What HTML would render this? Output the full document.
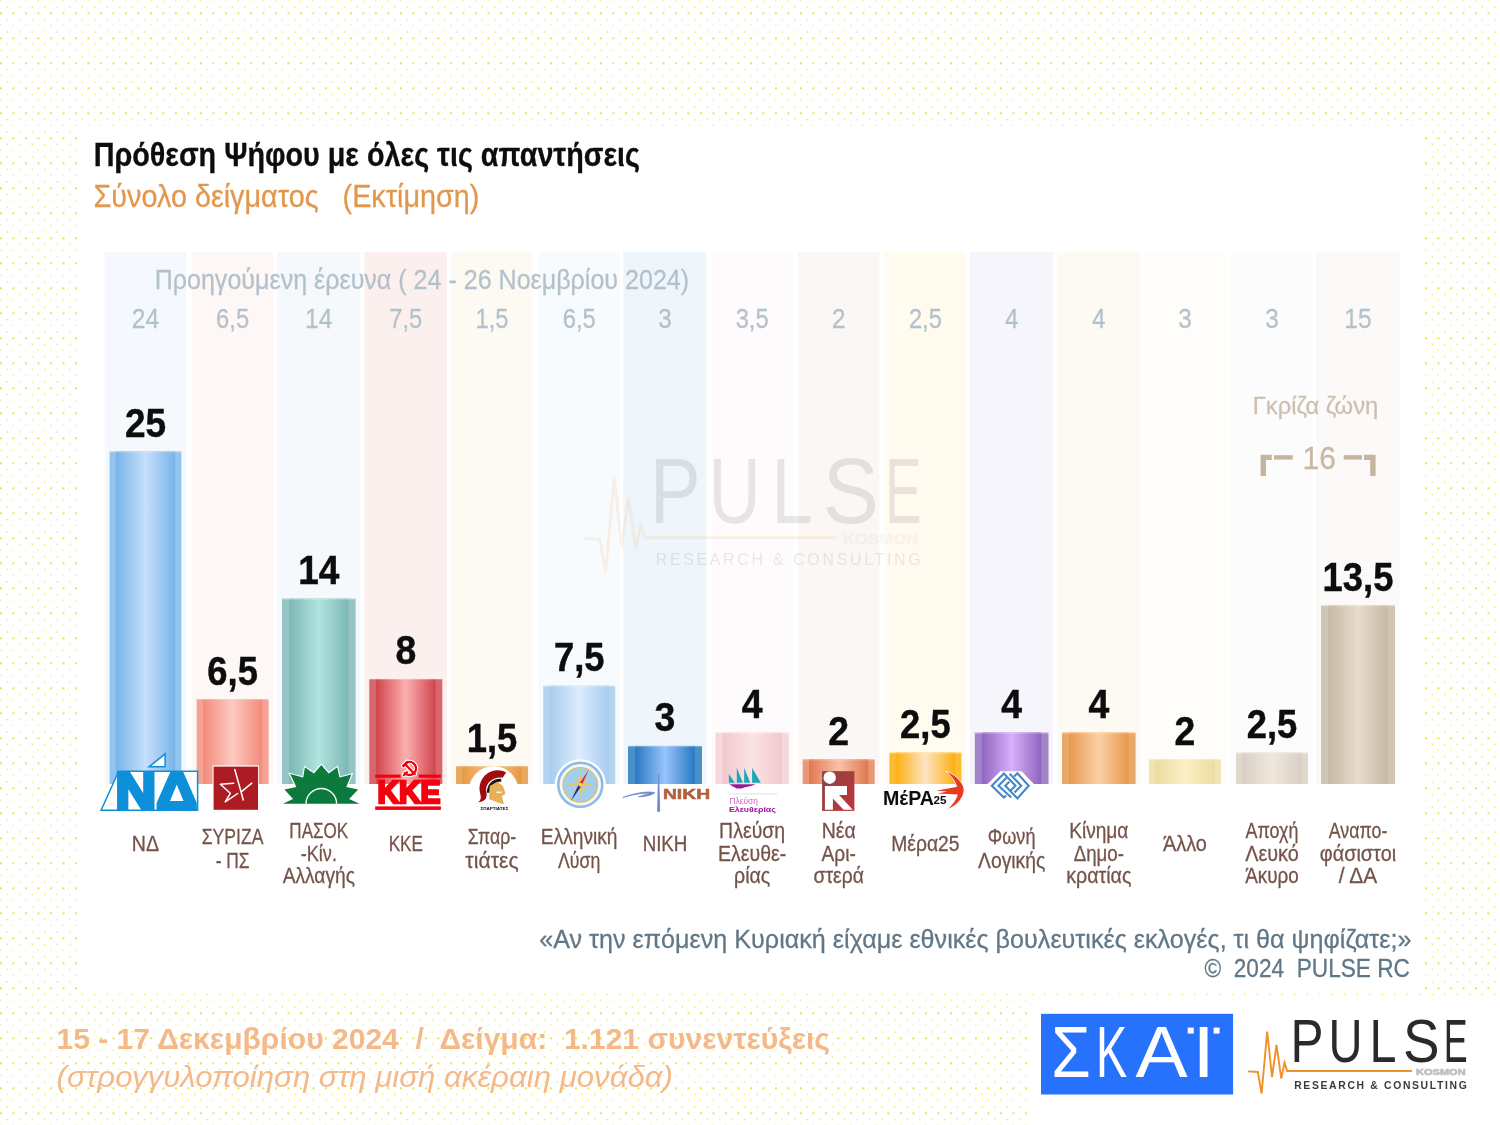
<!DOCTYPE html>
<html lang="el"><head><meta charset="utf-8"><title>Πρόθεση Ψήφου</title>
<style>html,body{margin:0;padding:0;background:#fff;}body{width:1500px;height:1125px;overflow:hidden}svg{display:block}text{white-space:pre}</style>
</head><body>
<svg width="1500" height="1125" viewBox="0 0 1500 1125">
<defs>
<pattern id="dots" x="0" y="0" width="25" height="25" patternUnits="userSpaceOnUse">
<g fill="#eee528">
<rect x="0" y="-0.3" width="1.6" height="1.0" opacity=".75"/><rect x="12.5" y="-0.3" width="1.6" height="1.0" opacity=".75"/>
<rect x="0" y="24.7" width="1.6" height="1.0" opacity=".75"/><rect x="12.5" y="24.7" width="1.6" height="1.0" opacity=".75"/>
<rect x="6.6" y="6.2" width="1.4" height="1.5" opacity=".7"/><rect x="19.1" y="6.2" width="1.4" height="1.5" opacity=".7"/>
<rect x="0" y="12.4" width="1.9" height="1.9"/><rect x="12.5" y="12.4" width="1.9" height="1.9"/>
<rect x="6.6" y="18.7" width="1.4" height="1.5" opacity=".7"/><rect x="19.1" y="18.7" width="1.4" height="1.5" opacity=".7"/>
</g></pattern>
<linearGradient id="g0" x1="0" x2="1" y1="0" y2="0"><stop offset="0" stop-color="#78b4e8"/><stop offset=".5" stop-color="#c6dffc"/><stop offset="1" stop-color="#78b4e8"/></linearGradient>
<linearGradient id="g1" x1="0" x2="1" y1="0" y2="0"><stop offset="0" stop-color="#f48a7a"/><stop offset=".5" stop-color="#fccac2"/><stop offset="1" stop-color="#f48a7a"/></linearGradient>
<linearGradient id="g2" x1="0" x2="1" y1="0" y2="0"><stop offset="0" stop-color="#7cb8b4"/><stop offset=".5" stop-color="#b0e4e0"/><stop offset="1" stop-color="#7cb8b4"/></linearGradient>
<linearGradient id="g3" x1="0" x2="1" y1="0" y2="0"><stop offset="0" stop-color="#d0444c"/><stop offset=".5" stop-color="#fcb0b0"/><stop offset="1" stop-color="#d0444c"/></linearGradient>
<linearGradient id="g4" x1="0" x2="1" y1="0" y2="0"><stop offset="0" stop-color="#e89840"/><stop offset=".5" stop-color="#f8c890"/><stop offset="1" stop-color="#e89840"/></linearGradient>
<linearGradient id="g5" x1="0" x2="1" y1="0" y2="0"><stop offset="0" stop-color="#a8ccf0"/><stop offset=".5" stop-color="#dcecfc"/><stop offset="1" stop-color="#a8ccf0"/></linearGradient>
<linearGradient id="g6" x1="0" x2="1" y1="0" y2="0"><stop offset="0" stop-color="#2878c0"/><stop offset=".5" stop-color="#98c4fc"/><stop offset="1" stop-color="#2878c0"/></linearGradient>
<linearGradient id="g7" x1="0" x2="1" y1="0" y2="0"><stop offset="0" stop-color="#f0c8cc"/><stop offset=".5" stop-color="#fce4e4"/><stop offset="1" stop-color="#f0c8cc"/></linearGradient>
<linearGradient id="g8" x1="0" x2="1" y1="0" y2="0"><stop offset="0" stop-color="#e07850"/><stop offset=".5" stop-color="#fcc0a8"/><stop offset="1" stop-color="#e07850"/></linearGradient>
<linearGradient id="g9" x1="0" x2="1" y1="0" y2="0"><stop offset="0" stop-color="#fbb010"/><stop offset=".5" stop-color="#fde4c4"/><stop offset="1" stop-color="#fbb010"/></linearGradient>
<linearGradient id="g10" x1="0" x2="1" y1="0" y2="0"><stop offset="0" stop-color="#9064c0"/><stop offset=".5" stop-color="#d8b0fc"/><stop offset="1" stop-color="#9064c0"/></linearGradient>
<linearGradient id="g11" x1="0" x2="1" y1="0" y2="0"><stop offset="0" stop-color="#e8984c"/><stop offset=".5" stop-color="#fcd0a8"/><stop offset="1" stop-color="#e8984c"/></linearGradient>
<linearGradient id="g12" x1="0" x2="1" y1="0" y2="0"><stop offset="0" stop-color="#ecdca0"/><stop offset=".5" stop-color="#fcf0c4"/><stop offset="1" stop-color="#ecdca0"/></linearGradient>
<linearGradient id="g13" x1="0" x2="1" y1="0" y2="0"><stop offset="0" stop-color="#d8d0c4"/><stop offset=".5" stop-color="#f0e8dc"/><stop offset="1" stop-color="#d8d0c4"/></linearGradient>
<linearGradient id="g14" x1="0" x2="1" y1="0" y2="0"><stop offset="0" stop-color="#c8b8a4"/><stop offset=".5" stop-color="#e8dccc"/><stop offset="1" stop-color="#c8b8a4"/></linearGradient>
<linearGradient id="gna" x1="0" y1="0" x2="1" y2="1"><stop offset="0" stop-color="#8a4244"/><stop offset="1" stop-color="#c03638"/></linearGradient>
<filter id="soft" x="0" y="0" width="1500" height="1125" filterUnits="userSpaceOnUse"><feGaussianBlur stdDeviation="0.45"/></filter>
</defs>
<rect width="1500" height="1125" fill="#fff"/>
<rect width="1500" height="1125" fill="url(#dots)"/>
<rect x="78.7" y="127.3" width="1344.6" height="865.7" fill="#fff"/>
<rect x="1028" y="997.3" width="472" height="128" fill="#fff"/>
<g filter="url(#soft)">
<rect x="104.80" y="252" width="81.20" height="532.0" fill="#f5f9fd"/>
<rect x="191.80" y="252" width="81.40" height="532.0" fill="#fdf7f5"/>
<rect x="277.20" y="252" width="83.00" height="532.0" fill="#f5f9fb"/>
<rect x="364.50" y="252" width="82.40" height="532.0" fill="#fcf0ef"/>
<rect x="451.20" y="252" width="81.40" height="532.0" fill="#fdf9f3"/>
<rect x="538.40" y="252" width="81.40" height="532.0" fill="#f8fbfe"/>
<rect x="623.20" y="252" width="83.40" height="532.0" fill="#eef5fb"/>
<rect x="710.70" y="252" width="82.70" height="532.0" fill="#fefbfc"/>
<rect x="797.90" y="252" width="81.40" height="532.0" fill="#fbf7f4"/>
<rect x="884.60" y="252" width="81.40" height="532.0" fill="#fffbef"/>
<rect x="970.00" y="252" width="83.10" height="532.0" fill="#f6f5fb"/>
<rect x="1057.20" y="252" width="83.00" height="532.0" fill="#fdfaf3"/>
<rect x="1144.20" y="252" width="81.40" height="532.0" fill="#fefdfa"/>
<rect x="1231.20" y="252" width="81.40" height="532.0" fill="#fdfcfc"/>
<rect x="1316.20" y="252" width="83.40" height="532.0" fill="#fbfaf8"/>
<g transform="translate(-1330.90,-1106.26) scale(1.5350,1.5350)" opacity="0.105">
<polyline fill="none" stroke="#f0922c" stroke-width="1.9" stroke-linejoin="miter" points="1248,1071.4 1257.8,1072 1261.6,1093.5 1267.2,1031.5 1272,1077 1276.5,1045 1281.3,1078.6 1284.5,1062.6 1287.2,1071 1412,1071"/>
<text y="1061.6" font-size="60.3" fill="#2b2b2b" font-family='"Liberation Sans", sans-serif'><tspan x="1290.44" textLength="33.00" lengthAdjust="spacingAndGlyphs">P</tspan><tspan x="1328.60" textLength="34.00" lengthAdjust="spacingAndGlyphs">U</tspan><tspan x="1369.56" textLength="27.00" lengthAdjust="spacingAndGlyphs">L</tspan><tspan x="1403.04" textLength="36.51" lengthAdjust="spacingAndGlyphs">S</tspan><tspan x="1443.63" textLength="23.87" lengthAdjust="spacingAndGlyphs">E</tspan></text>
<text x="1416" y="1075.4" font-size="9.2" font-weight="bold" fill="#bdbdbd" stroke="#bdbdbd" stroke-width=".6" font-family='"Liberation Sans", sans-serif' textLength="49.6" lengthAdjust="spacingAndGlyphs">KOSMON</text>
<text x="1294.2" y="1089" font-size="10.4" font-weight="normal" fill="#3a3a3a" font-family='"Liberation Sans", sans-serif' textLength="172.6" lengthAdjust="spacing">RESEARCH &amp; CONSULTING</text>
</g>
<rect x="109.60" y="451.35" width="71.8" height="332.65" fill="#92c4ee"/>
<rect x="115.80" y="451.35" width="59.40" height="332.65" fill="url(#g0)"/>
<rect x="109.60" y="451.35" width="71.8" height="1.2" fill="#fff" opacity=".25"/>
<rect x="196.60" y="699.07" width="72.0" height="84.93" fill="#f5a294"/>
<rect x="202.90" y="699.07" width="59.40" height="84.93" fill="url(#g1)"/>
<rect x="196.60" y="699.07" width="72.0" height="1.2" fill="#fff" opacity=".25"/>
<rect x="282.00" y="598.64" width="73.6" height="185.36" fill="#96c4c4"/>
<rect x="289.10" y="598.64" width="59.40" height="185.36" fill="url(#g2)"/>
<rect x="282.00" y="598.64" width="73.6" height="1.2" fill="#fff" opacity=".25"/>
<rect x="369.30" y="678.98" width="73.0" height="105.02" fill="#d8666c"/>
<rect x="376.10" y="678.98" width="59.40" height="105.02" fill="url(#g3)"/>
<rect x="369.30" y="678.98" width="73.0" height="1.2" fill="#fff" opacity=".25"/>
<rect x="456.00" y="766.01" width="72.0" height="17.99" fill="#e8a860"/>
<rect x="462.30" y="766.01" width="59.40" height="17.99" fill="url(#g4)"/>
<rect x="456.00" y="766.01" width="72.0" height="1.2" fill="#fff" opacity=".25"/>
<rect x="543.20" y="685.67" width="72.0" height="98.33" fill="#b4d4f0"/>
<rect x="549.50" y="685.67" width="59.40" height="98.33" fill="url(#g5)"/>
<rect x="543.20" y="685.67" width="72.0" height="1.2" fill="#fff" opacity=".25"/>
<rect x="628.00" y="745.93" width="74.0" height="38.07" fill="#4890c8"/>
<rect x="635.30" y="745.93" width="59.40" height="38.07" fill="url(#g6)"/>
<rect x="628.00" y="745.93" width="74.0" height="1.2" fill="#fff" opacity=".25"/>
<rect x="715.50" y="732.54" width="73.3" height="51.46" fill="#f4d8dc"/>
<rect x="722.45" y="732.54" width="59.40" height="51.46" fill="url(#g7)"/>
<rect x="715.50" y="732.54" width="73.3" height="1.2" fill="#fff" opacity=".25"/>
<rect x="802.70" y="759.32" width="72.0" height="24.68" fill="#e89878"/>
<rect x="809.00" y="759.32" width="59.40" height="24.68" fill="url(#g8)"/>
<rect x="802.70" y="759.32" width="72.0" height="1.2" fill="#fff" opacity=".25"/>
<rect x="889.40" y="752.62" width="72.0" height="31.38" fill="#fcbc30"/>
<rect x="895.70" y="752.62" width="59.40" height="31.38" fill="url(#g9)"/>
<rect x="889.40" y="752.62" width="72.0" height="1.2" fill="#fff" opacity=".25"/>
<rect x="974.80" y="732.54" width="73.7" height="51.46" fill="#a484c8"/>
<rect x="981.95" y="732.54" width="59.40" height="51.46" fill="url(#g10)"/>
<rect x="974.80" y="732.54" width="73.7" height="1.2" fill="#fff" opacity=".25"/>
<rect x="1062.00" y="732.54" width="73.6" height="51.46" fill="#e8a868"/>
<rect x="1069.10" y="732.54" width="59.40" height="51.46" fill="url(#g11)"/>
<rect x="1062.00" y="732.54" width="73.6" height="1.2" fill="#fff" opacity=".25"/>
<rect x="1149.00" y="759.32" width="72.0" height="24.68" fill="#f0e4b4"/>
<rect x="1155.30" y="759.32" width="59.40" height="24.68" fill="url(#g12)"/>
<rect x="1149.00" y="759.32" width="72.0" height="1.2" fill="#fff" opacity=".25"/>
<rect x="1236.00" y="752.62" width="72.0" height="31.38" fill="#e0d8cc"/>
<rect x="1242.30" y="752.62" width="59.40" height="31.38" fill="url(#g13)"/>
<rect x="1236.00" y="752.62" width="72.0" height="1.2" fill="#fff" opacity=".25"/>
<rect x="1321.00" y="605.34" width="74.0" height="178.66" fill="#d0c4b4"/>
<rect x="1328.30" y="605.34" width="59.40" height="178.66" fill="url(#g14)"/>
<rect x="1321.00" y="605.34" width="74.0" height="1.2" fill="#fff" opacity=".25"/>
<g id="txt">
<text x="93.70" y="166.00" font-size="33.30" fill="#0a0a0a" font-weight="bold" font-style="normal" font-family='"Liberation Sans", sans-serif' textLength="546.30" lengthAdjust="spacingAndGlyphs"  stroke="#0a0a0a" stroke-width="0.28">Πρόθεση Ψήφου με όλες τις απαντήσεις</text>
<text x="93.56" y="206.70" font-size="31.20" fill="#e2974d" font-weight="normal" font-style="normal" font-family='"Liberation Sans", sans-serif' textLength="385.87" lengthAdjust="spacingAndGlyphs"  stroke="#e2974d" stroke-width="0.28">Σύνολο δείγματος   (Εκτίμηση)</text>
<text x="154.67" y="289.20" font-size="27.60" fill="#b3c1cb" font-weight="normal" font-style="normal" font-family='"Liberation Sans", sans-serif' textLength="534.46" lengthAdjust="spacingAndGlyphs"  stroke="#b3c1cb" stroke-width="0.28">Προηγούμενη έρευνα ( 24 - 26 Νοεμβρίου 2024)</text>
<text x="131.81" y="328.30" font-size="28.50" fill="#b3c1cb" font-weight="normal" font-style="normal" font-family='"Liberation Sans", sans-serif' textLength="27.37" lengthAdjust="spacingAndGlyphs"  stroke="#b3c1cb" stroke-width="0.28">24</text>
<text x="216.11" y="328.30" font-size="28.50" fill="#b3c1cb" font-weight="normal" font-style="normal" font-family='"Liberation Sans", sans-serif' textLength="32.97" lengthAdjust="spacingAndGlyphs"  stroke="#b3c1cb" stroke-width="0.28">6,5</text>
<text x="305.11" y="328.30" font-size="28.50" fill="#b3c1cb" font-weight="normal" font-style="normal" font-family='"Liberation Sans", sans-serif' textLength="27.37" lengthAdjust="spacingAndGlyphs"  stroke="#b3c1cb" stroke-width="0.28">14</text>
<text x="389.31" y="328.30" font-size="28.50" fill="#b3c1cb" font-weight="normal" font-style="normal" font-family='"Liberation Sans", sans-serif' textLength="32.97" lengthAdjust="spacingAndGlyphs"  stroke="#b3c1cb" stroke-width="0.28">7,5</text>
<text x="475.51" y="328.30" font-size="28.50" fill="#b3c1cb" font-weight="normal" font-style="normal" font-family='"Liberation Sans", sans-serif' textLength="32.97" lengthAdjust="spacingAndGlyphs"  stroke="#b3c1cb" stroke-width="0.28">1,5</text>
<text x="562.71" y="328.30" font-size="28.50" fill="#b3c1cb" font-weight="normal" font-style="normal" font-family='"Liberation Sans", sans-serif' textLength="32.97" lengthAdjust="spacingAndGlyphs"  stroke="#b3c1cb" stroke-width="0.28">6,5</text>
<text x="658.23" y="328.30" font-size="28.50" fill="#b3c1cb" font-weight="normal" font-style="normal" font-family='"Liberation Sans", sans-serif' textLength="13.54" lengthAdjust="spacingAndGlyphs"  stroke="#b3c1cb" stroke-width="0.28">3</text>
<text x="735.66" y="328.30" font-size="28.50" fill="#b3c1cb" font-weight="normal" font-style="normal" font-family='"Liberation Sans", sans-serif' textLength="32.97" lengthAdjust="spacingAndGlyphs"  stroke="#b3c1cb" stroke-width="0.28">3,5</text>
<text x="831.93" y="328.30" font-size="28.50" fill="#b3c1cb" font-weight="normal" font-style="normal" font-family='"Liberation Sans", sans-serif' textLength="13.54" lengthAdjust="spacingAndGlyphs"  stroke="#b3c1cb" stroke-width="0.28">2</text>
<text x="908.91" y="328.30" font-size="28.50" fill="#b3c1cb" font-weight="normal" font-style="normal" font-family='"Liberation Sans", sans-serif' textLength="32.97" lengthAdjust="spacingAndGlyphs"  stroke="#b3c1cb" stroke-width="0.28">2,5</text>
<text x="1004.88" y="328.30" font-size="28.50" fill="#b3c1cb" font-weight="normal" font-style="normal" font-family='"Liberation Sans", sans-serif' textLength="13.54" lengthAdjust="spacingAndGlyphs"  stroke="#b3c1cb" stroke-width="0.28">4</text>
<text x="1092.03" y="328.30" font-size="28.50" fill="#b3c1cb" font-weight="normal" font-style="normal" font-family='"Liberation Sans", sans-serif' textLength="13.54" lengthAdjust="spacingAndGlyphs"  stroke="#b3c1cb" stroke-width="0.28">4</text>
<text x="1178.23" y="328.30" font-size="28.50" fill="#b3c1cb" font-weight="normal" font-style="normal" font-family='"Liberation Sans", sans-serif' textLength="13.54" lengthAdjust="spacingAndGlyphs"  stroke="#b3c1cb" stroke-width="0.28">3</text>
<text x="1265.23" y="328.30" font-size="28.50" fill="#b3c1cb" font-weight="normal" font-style="normal" font-family='"Liberation Sans", sans-serif' textLength="13.54" lengthAdjust="spacingAndGlyphs"  stroke="#b3c1cb" stroke-width="0.28">3</text>
<text x="1344.31" y="328.30" font-size="28.50" fill="#b3c1cb" font-weight="normal" font-style="normal" font-family='"Liberation Sans", sans-serif' textLength="27.37" lengthAdjust="spacingAndGlyphs"  stroke="#b3c1cb" stroke-width="0.28">15</text>
<text x="124.92" y="436.85" font-size="40.60" fill="#0a0a0a" font-weight="bold" font-style="normal" font-family='"Liberation Sans", sans-serif' textLength="41.16" lengthAdjust="spacingAndGlyphs"  stroke="#0a0a0a" stroke-width="0.45">25</text>
<text x="207.32" y="684.57" font-size="40.60" fill="#0a0a0a" font-weight="bold" font-style="normal" font-family='"Liberation Sans", sans-serif' textLength="50.56" lengthAdjust="spacingAndGlyphs"  stroke="#0a0a0a" stroke-width="0.45">6,5</text>
<text x="298.22" y="584.14" font-size="40.60" fill="#0a0a0a" font-weight="bold" font-style="normal" font-family='"Liberation Sans", sans-serif' textLength="41.16" lengthAdjust="spacingAndGlyphs"  stroke="#0a0a0a" stroke-width="0.45">14</text>
<text x="395.40" y="664.48" font-size="40.60" fill="#0a0a0a" font-weight="bold" font-style="normal" font-family='"Liberation Sans", sans-serif' textLength="20.80" lengthAdjust="spacingAndGlyphs"  stroke="#0a0a0a" stroke-width="0.45">8</text>
<text x="466.72" y="751.51" font-size="40.60" fill="#0a0a0a" font-weight="bold" font-style="normal" font-family='"Liberation Sans", sans-serif' textLength="50.56" lengthAdjust="spacingAndGlyphs"  stroke="#0a0a0a" stroke-width="0.45">1,5</text>
<text x="553.92" y="671.17" font-size="40.60" fill="#0a0a0a" font-weight="bold" font-style="normal" font-family='"Liberation Sans", sans-serif' textLength="50.56" lengthAdjust="spacingAndGlyphs"  stroke="#0a0a0a" stroke-width="0.45">7,5</text>
<text x="654.60" y="731.43" font-size="40.60" fill="#0a0a0a" font-weight="bold" font-style="normal" font-family='"Liberation Sans", sans-serif' textLength="20.80" lengthAdjust="spacingAndGlyphs"  stroke="#0a0a0a" stroke-width="0.45">3</text>
<text x="741.75" y="718.04" font-size="40.60" fill="#0a0a0a" font-weight="bold" font-style="normal" font-family='"Liberation Sans", sans-serif' textLength="20.80" lengthAdjust="spacingAndGlyphs"  stroke="#0a0a0a" stroke-width="0.45">4</text>
<text x="828.30" y="744.82" font-size="40.60" fill="#0a0a0a" font-weight="bold" font-style="normal" font-family='"Liberation Sans", sans-serif' textLength="20.80" lengthAdjust="spacingAndGlyphs"  stroke="#0a0a0a" stroke-width="0.45">2</text>
<text x="900.12" y="738.12" font-size="40.60" fill="#0a0a0a" font-weight="bold" font-style="normal" font-family='"Liberation Sans", sans-serif' textLength="50.56" lengthAdjust="spacingAndGlyphs"  stroke="#0a0a0a" stroke-width="0.45">2,5</text>
<text x="1001.25" y="718.04" font-size="40.60" fill="#0a0a0a" font-weight="bold" font-style="normal" font-family='"Liberation Sans", sans-serif' textLength="20.80" lengthAdjust="spacingAndGlyphs"  stroke="#0a0a0a" stroke-width="0.45">4</text>
<text x="1088.40" y="718.04" font-size="40.60" fill="#0a0a0a" font-weight="bold" font-style="normal" font-family='"Liberation Sans", sans-serif' textLength="20.80" lengthAdjust="spacingAndGlyphs"  stroke="#0a0a0a" stroke-width="0.45">4</text>
<text x="1174.60" y="744.82" font-size="40.60" fill="#0a0a0a" font-weight="bold" font-style="normal" font-family='"Liberation Sans", sans-serif' textLength="20.80" lengthAdjust="spacingAndGlyphs"  stroke="#0a0a0a" stroke-width="0.45">2</text>
<text x="1246.72" y="738.12" font-size="40.60" fill="#0a0a0a" font-weight="bold" font-style="normal" font-family='"Liberation Sans", sans-serif' textLength="50.56" lengthAdjust="spacingAndGlyphs"  stroke="#0a0a0a" stroke-width="0.45">2,5</text>
<text x="1322.54" y="590.84" font-size="40.60" fill="#0a0a0a" font-weight="bold" font-style="normal" font-family='"Liberation Sans", sans-serif' textLength="70.92" lengthAdjust="spacingAndGlyphs"  stroke="#0a0a0a" stroke-width="0.45">13,5</text>
<text x="131.86" y="851.00" font-size="21.20" fill="#74534a" font-weight="normal" font-style="normal" font-family='"Liberation Sans", sans-serif' textLength="27.27" lengthAdjust="spacingAndGlyphs"  stroke="#74534a" stroke-width="0.28">ΝΔ</text>
<text x="201.76" y="844.40" font-size="21.20" fill="#74534a" font-weight="normal" font-style="normal" font-family='"Liberation Sans", sans-serif' textLength="61.67" lengthAdjust="spacingAndGlyphs"  stroke="#74534a" stroke-width="0.28">ΣΥΡΙΖΑ</text>
<text x="215.66" y="867.60" font-size="21.20" fill="#74534a" font-weight="normal" font-style="normal" font-family='"Liberation Sans", sans-serif' textLength="33.87" lengthAdjust="spacingAndGlyphs"  stroke="#74534a" stroke-width="0.28">- ΠΣ</text>
<text x="289.36" y="837.80" font-size="21.20" fill="#74534a" font-weight="normal" font-style="normal" font-family='"Liberation Sans", sans-serif' textLength="58.87" lengthAdjust="spacingAndGlyphs"  stroke="#74534a" stroke-width="0.28">ΠΑΣΟΚ</text>
<text x="300.66" y="860.60" font-size="21.20" fill="#74534a" font-weight="normal" font-style="normal" font-family='"Liberation Sans", sans-serif' textLength="36.27" lengthAdjust="spacingAndGlyphs"  stroke="#74534a" stroke-width="0.28">-Κίν.</text>
<text x="282.66" y="883.20" font-size="21.20" fill="#74534a" font-weight="normal" font-style="normal" font-family='"Liberation Sans", sans-serif' textLength="72.27" lengthAdjust="spacingAndGlyphs"  stroke="#74534a" stroke-width="0.28">Αλλαγής</text>
<text x="388.66" y="851.00" font-size="21.20" fill="#74534a" font-weight="normal" font-style="normal" font-family='"Liberation Sans", sans-serif' textLength="34.27" lengthAdjust="spacingAndGlyphs"  stroke="#74534a" stroke-width="0.28">ΚΚΕ</text>
<text x="467.86" y="844.40" font-size="21.20" fill="#74534a" font-weight="normal" font-style="normal" font-family='"Liberation Sans", sans-serif' textLength="48.27" lengthAdjust="spacingAndGlyphs"  stroke="#74534a" stroke-width="0.28">Σπαρ-</text>
<text x="465.36" y="867.60" font-size="21.20" fill="#74534a" font-weight="normal" font-style="normal" font-family='"Liberation Sans", sans-serif' textLength="53.27" lengthAdjust="spacingAndGlyphs"  stroke="#74534a" stroke-width="0.28">τιάτες</text>
<text x="540.86" y="844.40" font-size="21.20" fill="#74534a" font-weight="normal" font-style="normal" font-family='"Liberation Sans", sans-serif' textLength="76.67" lengthAdjust="spacingAndGlyphs"  stroke="#74534a" stroke-width="0.28">Ελληνική</text>
<text x="558.06" y="867.60" font-size="21.20" fill="#74534a" font-weight="normal" font-style="normal" font-family='"Liberation Sans", sans-serif' textLength="42.27" lengthAdjust="spacingAndGlyphs"  stroke="#74534a" stroke-width="0.28">Λύση</text>
<text x="642.66" y="851.00" font-size="21.20" fill="#74534a" font-weight="normal" font-style="normal" font-family='"Liberation Sans", sans-serif' textLength="44.67" lengthAdjust="spacingAndGlyphs"  stroke="#74534a" stroke-width="0.28">ΝΙΚΗ</text>
<text x="719.11" y="837.80" font-size="21.20" fill="#74534a" font-weight="normal" font-style="normal" font-family='"Liberation Sans", sans-serif' textLength="66.07" lengthAdjust="spacingAndGlyphs"  stroke="#74534a" stroke-width="0.28">Πλεύση</text>
<text x="718.01" y="860.60" font-size="21.20" fill="#74534a" font-weight="normal" font-style="normal" font-family='"Liberation Sans", sans-serif' textLength="68.27" lengthAdjust="spacingAndGlyphs"  stroke="#74534a" stroke-width="0.28">Ελευθε-</text>
<text x="734.01" y="883.20" font-size="21.20" fill="#74534a" font-weight="normal" font-style="normal" font-family='"Liberation Sans", sans-serif' textLength="36.27" lengthAdjust="spacingAndGlyphs"  stroke="#74534a" stroke-width="0.28">ρίας</text>
<text x="821.66" y="837.80" font-size="21.20" fill="#74534a" font-weight="normal" font-style="normal" font-family='"Liberation Sans", sans-serif' textLength="34.07" lengthAdjust="spacingAndGlyphs"  stroke="#74534a" stroke-width="0.28">Νέα</text>
<text x="821.56" y="860.60" font-size="21.20" fill="#74534a" font-weight="normal" font-style="normal" font-family='"Liberation Sans", sans-serif' textLength="34.27" lengthAdjust="spacingAndGlyphs"  stroke="#74534a" stroke-width="0.28">Αρι-</text>
<text x="813.56" y="883.20" font-size="21.20" fill="#74534a" font-weight="normal" font-style="normal" font-family='"Liberation Sans", sans-serif' textLength="50.27" lengthAdjust="spacingAndGlyphs"  stroke="#74534a" stroke-width="0.28">στερά</text>
<text x="891.26" y="851.00" font-size="21.20" fill="#74534a" font-weight="normal" font-style="normal" font-family='"Liberation Sans", sans-serif' textLength="68.27" lengthAdjust="spacingAndGlyphs"  stroke="#74534a" stroke-width="0.28">Μέρα25</text>
<text x="987.81" y="844.40" font-size="21.20" fill="#74534a" font-weight="normal" font-style="normal" font-family='"Liberation Sans", sans-serif' textLength="47.67" lengthAdjust="spacingAndGlyphs"  stroke="#74534a" stroke-width="0.28">Φωνή</text>
<text x="978.01" y="867.60" font-size="21.20" fill="#74534a" font-weight="normal" font-style="normal" font-family='"Liberation Sans", sans-serif' textLength="67.27" lengthAdjust="spacingAndGlyphs"  stroke="#74534a" stroke-width="0.28">Λογικής</text>
<text x="1069.16" y="837.80" font-size="21.20" fill="#74534a" font-weight="normal" font-style="normal" font-family='"Liberation Sans", sans-serif' textLength="59.27" lengthAdjust="spacingAndGlyphs"  stroke="#74534a" stroke-width="0.28">Κίνημα</text>
<text x="1073.66" y="860.60" font-size="21.20" fill="#74534a" font-weight="normal" font-style="normal" font-family='"Liberation Sans", sans-serif' textLength="50.27" lengthAdjust="spacingAndGlyphs"  stroke="#74534a" stroke-width="0.28">Δημο-</text>
<text x="1066.16" y="883.20" font-size="21.20" fill="#74534a" font-weight="normal" font-style="normal" font-family='"Liberation Sans", sans-serif' textLength="65.27" lengthAdjust="spacingAndGlyphs"  stroke="#74534a" stroke-width="0.28">κρατίας</text>
<text x="1163.06" y="851.00" font-size="21.20" fill="#74534a" font-weight="normal" font-style="normal" font-family='"Liberation Sans", sans-serif' textLength="43.87" lengthAdjust="spacingAndGlyphs"  stroke="#74534a" stroke-width="0.28">Άλλο</text>
<text x="1245.56" y="837.80" font-size="21.20" fill="#74534a" font-weight="normal" font-style="normal" font-family='"Liberation Sans", sans-serif' textLength="52.87" lengthAdjust="spacingAndGlyphs"  stroke="#74534a" stroke-width="0.28">Αποχή</text>
<text x="1245.16" y="860.60" font-size="21.20" fill="#74534a" font-weight="normal" font-style="normal" font-family='"Liberation Sans", sans-serif' textLength="53.67" lengthAdjust="spacingAndGlyphs"  stroke="#74534a" stroke-width="0.28">Λευκό</text>
<text x="1245.16" y="883.20" font-size="21.20" fill="#74534a" font-weight="normal" font-style="normal" font-family='"Liberation Sans", sans-serif' textLength="53.67" lengthAdjust="spacingAndGlyphs"  stroke="#74534a" stroke-width="0.28">Άκυρο</text>
<text x="1328.66" y="837.80" font-size="21.20" fill="#74534a" font-weight="normal" font-style="normal" font-family='"Liberation Sans", sans-serif' textLength="58.67" lengthAdjust="spacingAndGlyphs"  stroke="#74534a" stroke-width="0.28">Αναπο-</text>
<text x="1319.86" y="860.60" font-size="21.20" fill="#74534a" font-weight="normal" font-style="normal" font-family='"Liberation Sans", sans-serif' textLength="76.27" lengthAdjust="spacingAndGlyphs"  stroke="#74534a" stroke-width="0.28">φάσιστοι</text>
<text x="1338.86" y="883.20" font-size="21.20" fill="#74534a" font-weight="normal" font-style="normal" font-family='"Liberation Sans", sans-serif' textLength="38.27" lengthAdjust="spacingAndGlyphs"  stroke="#74534a" stroke-width="0.28">/ ΔΑ</text>
<text x="539.22" y="947.60" font-size="26.00" fill="#5f7786" font-weight="normal" font-style="normal" font-family='"Liberation Sans", sans-serif' textLength="872.26" lengthAdjust="spacingAndGlyphs"  stroke="#5f7786" stroke-width="0.28">«Αν την επόμενη Κυριακή είχαμε εθνικές βουλευτικές εκλογές, τι θα ψηφίζατε;»</text>
<text x="1204.53" y="976.90" font-size="25.50" fill="#5f7786" font-weight="normal" font-style="normal" font-family='"Liberation Sans", sans-serif' textLength="205.43" lengthAdjust="spacingAndGlyphs"  stroke="#5f7786" stroke-width="0.28">©  2024  PULSE RC</text>
<text x="1252.77" y="413.70" font-size="24.50" fill="#cdbfae" font-weight="normal" font-style="normal" font-family='"Liberation Sans", sans-serif' textLength="125.47" lengthAdjust="spacingAndGlyphs"  stroke="#cdbfae" stroke-width="0.28">Γκρίζα ζώνη</text>
<text x="1302.56" y="469.20" font-size="31.40" fill="#c8b8a4" font-weight="normal" font-style="normal" font-family='"Liberation Sans", sans-serif' textLength="33.38" lengthAdjust="spacingAndGlyphs"  stroke="#c8b8a4" stroke-width="0.28">16</text>
<g fill="#c4b4a0"><path d="M1260.6 454.8h11.2v5.2h-5.8v16h-5.4z"/><rect x="1274" y="455.2" width="18.7" height="4.4"/><rect x="1343.7" y="455.2" width="18.3" height="4.4"/><path d="M1375.6 454.8h-11.6v5.2h6.2v16h5.4z"/></g>
<text x="56.50" y="1049.00" font-size="30.00" fill="#f4b98a" font-weight="bold" font-style="normal" font-family='"Liberation Sans", sans-serif' textLength="773.40" lengthAdjust="spacingAndGlyphs" >15 - 17 Δεκεμβρίου 2024  /  Δείγμα:  1.121 συνεντεύξεις</text>
<text x="56.50" y="1087.40" font-size="30.00" fill="#f4b98a" font-weight="normal" font-style="italic" font-family='"Liberation Sans", sans-serif' textLength="616.40" lengthAdjust="spacingAndGlyphs" >(στρογγυλοποίηση στη μισή ακέραιη μονάδα)</text>
</g>
<polygon points="101.1,810.2 118.7,771.2 197.6,771.2 197.6,810.2" fill="#fff" stroke="#0b90d9" stroke-width="1.5"/>
<polygon points="149.3,766.7 165.1,753.9 165.1,766.7" fill="#fff" stroke="#0b90d9" stroke-width="1.5"/>
<text x="115.2" y="808.6" font-size="51" font-weight="bold" fill="#0b90d9" stroke="#0b90d9" stroke-width="3.6" stroke-linejoin="miter" font-family='"Liberation Sans", sans-serif' textLength="82" lengthAdjust="spacingAndGlyphs">ΝΔ</text>
<rect x="212.6" y="765.4" width="46.2" height="45" fill="#fff"/>
<rect x="213.6" y="766.6" width="44.4" height="43.2" fill="#ad1c24"/>
<g fill="none" stroke="#fff" stroke-width="1.5" stroke-linecap="round" stroke-linejoin="round"><path d="M234.8 769.5L243.3 800"/><path d="M251.8 783.1L241.8 791.4"/><path d="M233.7 783.3L220.4 784.3L230.3 793.3L225.2 801.8L237.7 793.5"/></g>
<polygon points="282.8,803.8 293.0,799.0 284.5,789.4 296.4,787.1 290.2,774.1 303.2,777.5 304.9,767.3 314.0,773.5 321.3,765.0 328.7,773.5 337.2,767.3 339.5,777.5 351.4,774.6 346.3,787.1 358.2,789.4 349.1,799.0 359.6,803.8" fill="#0d7a3c" stroke="#fff" stroke-width="2.2" stroke-linejoin="miter"/>
<polygon points="282.8,803.8 293.0,799.0 284.5,789.4 296.4,787.1 290.2,774.1 303.2,777.5 304.9,767.3 314.0,773.5 321.3,765.0 328.7,773.5 337.2,767.3 339.5,777.5 351.4,774.6 346.3,787.1 358.2,789.4 349.1,799.0 359.6,803.8" fill="#0d7a3c"/>
<path d="M306 803.8A15.3 15.3 0 0 1 336.6 803.8" fill="none" stroke="#fff" stroke-width="1.3"/>
<rect x="375.2" y="774.6" width="25.5" height="3.1" fill="#f5000c"/><rect x="418.6" y="774.6" width="22.3" height="3.1" fill="#f5000c"/>
<rect x="375.2" y="806.4" width="65.7" height="3.5" fill="#f5000c"/>
<text x="377.4" y="802.9" font-size="32" font-weight="bold" fill="#f5000c" stroke="#f5000c" stroke-width="2.6" font-family='"Liberation Sans", sans-serif' textLength="63" lengthAdjust="spacingAndGlyphs">ΚΚΕ</text>
<g fill="none" stroke="#fff" stroke-linecap="round"><path d="M406.5 762.5A6.6 6.6 0 1 1 404.8 773.2" stroke-width="4.6"/><path d="M405.2 764.2L414.8 774.2" stroke-width="4.4"/><path d="M403.4 765.8L407.4 762.2" stroke-width="5"/><path d="M403.8 775.2L407 772.2" stroke-width="4.4"/></g>
<g fill="none" stroke="#f5000c" stroke-linecap="round"><path d="M406.5 762.5A6.6 6.6 0 1 1 404.8 773.2" stroke-width="2.4"/><path d="M405.2 764.2L414.8 774.2" stroke-width="2.2"/><path d="M403.4 765.8L407.4 762.2" stroke-width="2.8"/><path d="M403.8 775.2L407 772.2" stroke-width="2.2"/></g>
<circle cx="493.6" cy="791.1" r="24.9" fill="#fff"/>
<path d="M506.1 772.4 C497.6 767.3 482.9 770.7 479.7 785.4 C478.3 793.3 484.0 797.9 478.1 802.2 C487.4 801.3 487.4 795.6 486.0 789.9 C486.3 782.0 494.2 776.3 502.7 777.7 Z" fill="#a00c10"/>
<path d="M501.0 778.8 C493.1 778.0 486.8 784.3 486.8 792.8 L489.7 792.8 C489.7 785.4 495.3 781.4 501.6 781.4 Z" fill="#1c1414"/>
<polygon points="489.7,786.0 497.6,781.8 503.0,786.0 505.5,793.6 501.9,796.2 503.9,804.3 497.6,802.6 489.1,799.2" fill="#e8b056"/>
<rect x="496.5" y="791.6" width="5" height="1.4" fill="#fff"/>
<text x="480.4" y="809.8" font-size="4.2" font-weight="bold" fill="#111" font-family='"Liberation Sans", sans-serif' textLength="28" lengthAdjust="spacingAndGlyphs">ΣΠΑΡΤΙΑΤΕΣ</text>
<circle cx="580.3" cy="784.8" r="25.6" fill="#fff"/>
<circle cx="580.3" cy="784.8" r="22" fill="#f4f6f4" stroke="#8cbce6" stroke-width="2.6"/>
<circle cx="580.3" cy="784.8" r="17.2" fill="#a2cef0" stroke="#d8c06a" stroke-width="1.3"/>
<polygon points="580.3,770.3 581.6,781.7 588.1,777.0 583.4,783.5 594.8,784.8 583.4,786.1 588.1,792.6 581.6,787.9 580.3,799.3 579.0,787.9 572.5,792.6 577.2,786.1 565.8,784.8 577.2,783.5 572.5,777.0 579.0,781.7" fill="#e6c662"/>
<path d="M578.9 784.0L588.9 769.4L581.7 785.6Z" fill="#e02a2a"/>
<path d="M578.9 784.0L570.6 801.4L581.7 785.6Z" fill="#1c2c8c"/>
<circle cx="580.3" cy="784.8" r="2" fill="#f0d060"/>
<path d="M658.6 774.2L659.6 811.3L657.7 811.3Z" fill="#6c8cd0" stroke="#6c8cd0" stroke-width="1.1"/>
<path d="M622.9 797.4C634 793.5 646 790.8 654.8 792.6C652 795.4 645 796.6 638.5 796.9C645 794.6 649 794 651 793.4C642 792.6 632 794.8 622.9 797.4Z" fill="#5f82c8" stroke="#5f82c8" stroke-width=".7"/>
<text x="662.9" y="799" font-size="13.9" font-weight="bold" fill="#b0603c" stroke="#b0603c" stroke-width=".5" font-family='"Liberation Sans", sans-serif' textLength="47.2" lengthAdjust="spacingAndGlyphs">ΝΙΚΗ</text>
<g fill="#19a9b9"><polygon points="728.9,774.1 728.9,782.8 734.8,782.8"/><polygon points="736.8,767.8 736.8,782.8 742.8,782.8"/><polygon points="744.2,767.8 744.2,782.8 750.2,782.8"/><polygon points="752.1,767.8 752.1,782.8 760.8,782.8"/></g>
<path d="M729.5 784.2L755.6 784.2C752 786.4 746 786.6 741.5 788.4L736.5 788.4C734 786.6 731.5 786.4 729.5 784.2Z" fill="#a01898"/>
<rect x="728.9" y="793.5" width="48.2" height=".9" fill="#dedede"/>
<text x="729.5" y="804.4" font-size="8.2" fill="#d266c8" font-family='"Liberation Sans", sans-serif' textLength="28.3" lengthAdjust="spacingAndGlyphs">Πλεύση</text>
<text x="728.9" y="812" font-size="6.4" font-weight="bold" fill="#a010a0" font-family='"Liberation Sans", sans-serif' textLength="47" lengthAdjust="spacingAndGlyphs">Ελευθερίας</text>
<rect x="822.1" y="771.2" width="32.3" height="39.7" fill="url(#gna)"/>
<circle cx="829.7" cy="777.7" r="6.2" fill="#fff"/>
<polygon points="824.9,786 847,786 847,795 839.1,795 852.7,809.8 843.6,809.8 832.9,798.4 832.9,809.8 824.9,809.8" fill="#fff"/>
<text x="883" y="804.7" font-size="19.8" font-weight="bold" fill="#0a0a0a" font-family='"Liberation Sans", sans-serif' textLength="51" lengthAdjust="spacingAndGlyphs">ΜέΡΑ</text>
<text x="933.4" y="804.3" font-size="11.6" font-weight="bold" fill="#0a0a0a" font-family='"Liberation Sans", sans-serif' textLength="13" lengthAdjust="spacingAndGlyphs">25</text>
<path d="M945.6 771.2 C957.0 774.6 964.6 784.3 964.1 790.8 C963.2 798.4 956.4 806.4 947.3 809.4 C954.4 802.4 958.4 796.2 957.5 790.2 C956.8 783.4 951.9 776.3 945.6 771.2 Z" fill="#e83a22" stroke="#fff" stroke-width=".8"/>
<path d="M958.7 786.5 L936.0 790.8 L947.3 791.5 L937.7 793.6 L958.7 794.5 Z" fill="#e83a22"/>
<polygon points="987.1,784.6 1000.3,771.2 1021.7,771.2 1034.2,784.6" fill="#fff"/>
<g fill="none" stroke="#4387c7" stroke-width="2.1" stroke-linejoin="miter" stroke-linecap="butt">
<polyline points="1006.1,795.4 1003.9,797.5 991.8,785.7 1003.9,773.5 1015.5,785.7 1010.4,790.8"/>
<polyline points="1006.5,777.7 998.5,785.7 1011.3,797.5"/>
<polyline points="1009.3,781.7 1005.3,785.7 1017.4,798.5 1028.7,785.7 1017.4,773.2 1014.1,776.5"/>
<polyline points="1009.6,773.7 1021.2,785.7 1014.5,792.4"/>
</g>
<rect x="1041" y="1013.8" width="192.1" height="80.7" fill="#2872fd"/>
<clipPath id="skc"><rect x="1041" y="1026.2" width="192" height="60"/></clipPath>
<text y="1076.6" font-size="71.9" fill="#fff" clip-path="url(#skc)" font-family='"Liberation Sans", sans-serif'><tspan x="1051.32" textLength="39.55" lengthAdjust="spacingAndGlyphs">Σ</tspan><tspan x="1095.91" textLength="31.18" lengthAdjust="spacingAndGlyphs">Κ</tspan><tspan x="1135.60" textLength="52.10" lengthAdjust="spacingAndGlyphs">Α</tspan><tspan x="1192.39" textLength="22.73" lengthAdjust="spacingAndGlyphs">Ϊ</tspan></text>
<rect x="1187.7" y="1027.6" width="6" height="6" fill="#fff"/><rect x="1213.6" y="1027.6" width="6" height="6" fill="#fff"/>
<g transform="translate(0.00,0.00) scale(1.0000,1.0000)" opacity="1.0">
<polyline fill="none" stroke="#f0922c" stroke-width="1.9" stroke-linejoin="miter" points="1248,1071.4 1257.8,1072 1261.6,1093.5 1267.2,1031.5 1272,1077 1276.5,1045 1281.3,1078.6 1284.5,1062.6 1287.2,1071 1412,1071"/>
<text y="1061.6" font-size="60.3" fill="#2b2b2b" font-family='"Liberation Sans", sans-serif'><tspan x="1290.44" textLength="33.00" lengthAdjust="spacingAndGlyphs">P</tspan><tspan x="1328.60" textLength="34.00" lengthAdjust="spacingAndGlyphs">U</tspan><tspan x="1369.56" textLength="27.00" lengthAdjust="spacingAndGlyphs">L</tspan><tspan x="1403.04" textLength="36.51" lengthAdjust="spacingAndGlyphs">S</tspan><tspan x="1443.63" textLength="23.87" lengthAdjust="spacingAndGlyphs">E</tspan></text>
<text x="1416" y="1075.4" font-size="9.2" font-weight="bold" fill="#bdbdbd" stroke="#bdbdbd" stroke-width=".6" font-family='"Liberation Sans", sans-serif' textLength="49.6" lengthAdjust="spacingAndGlyphs">KOSMON</text>
<text x="1294.2" y="1089" font-size="10.4" font-weight="bold" fill="#3a3a3a" font-family='"Liberation Sans", sans-serif' textLength="172.6" lengthAdjust="spacing">RESEARCH &amp; CONSULTING</text>
</g>
</g>
</svg>
</body></html>
